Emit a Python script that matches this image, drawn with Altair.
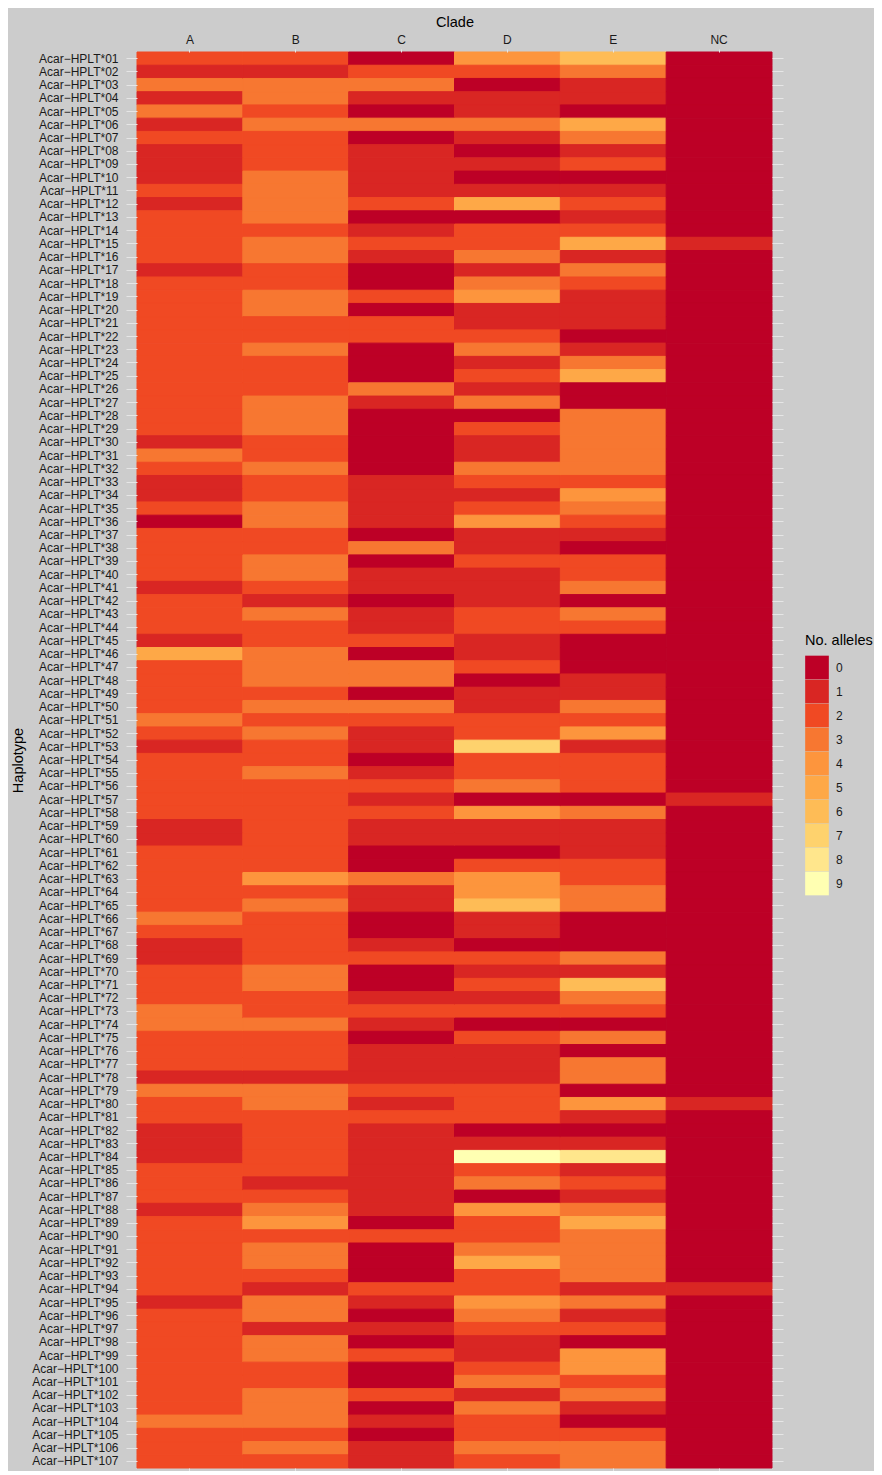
import altair as alt
import pandas as pd

clades = ["A", "B", "C", "D", "E", "NC"]
haplotypes = ["Acar\u2212HPLT*%02d" % i for i in range(1, 108)]

a = [2, 1, 3, 1, 3, 1, 2, 1, 1, 1, 2, 1, 2, 2, 2, 2, 1, 2,
     2, 2, 2, 2, 2, 2, 2, 2, 2, 2, 2, 1, 3, 2, 1, 1, 2, 0,
     2, 2, 2, 2, 1, 2, 2, 2, 1, 5, 2, 2, 2, 2, 3, 2, 1, 2,
     2, 2, 2, 2, 1, 1, 2, 2, 2, 2, 2, 3, 2, 1, 1, 2, 2, 2,
     3, 3, 2, 2, 2, 1, 3, 2, 2, 1, 1, 1, 2, 2, 2, 1, 2, 2,
     2, 2, 2, 2, 1, 2, 2, 2, 2, 2, 2, 2, 2, 3, 2, 2, 2]
b = [2, 1, 3, 3, 2, 3, 2, 2, 2, 3, 3, 3, 3, 2, 3, 3, 2, 2,
     3, 3, 2, 2, 3, 2, 2, 2, 3, 3, 3, 2, 2, 3, 2, 2, 3, 3,
     2, 2, 3, 3, 2, 1, 3, 2, 2, 3, 3, 3, 2, 3, 2, 3, 2, 2,
     3, 2, 2, 2, 2, 2, 2, 2, 4, 2, 3, 2, 2, 2, 2, 3, 3, 2,
     2, 3, 2, 2, 2, 1, 3, 3, 2, 2, 2, 2, 2, 1, 2, 3, 4, 2,
     3, 3, 2, 1, 3, 3, 1, 3, 3, 2, 2, 3, 3, 3, 2, 3, 2]
c = [0, 2, 3, 1, 0, 3, 0, 1, 1, 1, 1, 2, 0, 1, 2, 1, 0, 0,
     2, 0, 2, 2, 0, 0, 0, 3, 1, 0, 0, 0, 0, 0, 1, 1, 1, 1,
     0, 3, 0, 1, 1, 0, 1, 1, 2, 0, 3, 3, 0, 3, 2, 1, 1, 0,
     1, 2, 1, 2, 1, 1, 0, 0, 3, 1, 1, 0, 0, 1, 2, 0, 0, 1,
     2, 1, 0, 1, 1, 1, 2, 1, 2, 1, 1, 1, 1, 1, 1, 1, 0, 2,
     0, 0, 0, 2, 1, 0, 1, 0, 2, 0, 0, 2, 0, 1, 0, 1, 1]
d = [4, 2, 0, 1, 1, 3, 1, 0, 1, 0, 1, 5, 0, 2, 2, 3, 1, 3,
     4, 1, 1, 2, 3, 1, 2, 1, 3, 0, 2, 1, 1, 3, 2, 1, 2, 4,
     1, 1, 2, 1, 1, 1, 2, 2, 1, 1, 2, 0, 1, 1, 2, 2, 7, 2,
     2, 3, 0, 4, 1, 1, 0, 2, 4, 4, 6, 1, 1, 0, 2, 1, 2, 1,
     2, 0, 2, 1, 1, 1, 2, 2, 2, 0, 1, 9, 2, 3, 0, 4, 2, 2,
     3, 5, 2, 2, 4, 3, 2, 1, 1, 2, 3, 1, 3, 2, 2, 3, 2]
e = [6, 3, 1, 1, 0, 5, 3, 1, 2, 0, 1, 2, 1, 2, 5, 1, 3, 2,
     1, 1, 1, 0, 1, 3, 5, 0, 0, 3, 3, 3, 3, 3, 2, 4, 3, 2,
     1, 0, 2, 2, 3, 0, 3, 2, 0, 0, 0, 1, 1, 3, 2, 4, 1, 2,
     2, 2, 0, 3, 1, 1, 1, 2, 2, 3, 3, 0, 0, 0, 3, 1, 6, 3,
     2, 0, 3, 0, 3, 3, 0, 4, 1, 0, 1, 8, 1, 2, 1, 3, 5, 3,
     3, 3, 3, 1, 3, 1, 2, 0, 4, 4, 2, 3, 1, 0, 2, 3, 3]
nc = [0] * 107
for i in (15, 57, 80, 94):
    nc[i - 1] = 1

allele_levels = list(range(10))
palette = ["#bd0026", "#d92623", "#f04923", "#f77731", "#fd953d",
           "#fea847", "#febc56", "#fed26d", "#ffe68c", "#ffffb2"]

rows = []
for clade, vals in zip(clades, [a, b, c, d, e, nc]):
    for h, v in zip(haplotypes, vals):
        rows.append({"Clade": clade, "Haplotype": h, "alleles": v})
df = pd.DataFrame(rows)

FONT = "Liberation Sans"
TICK = "#e6e6e6"

base = alt.Chart(df)

main = base.mark_rect(strokeWidth=1).encode(
    x=alt.X("Clade:N", sort=clades, title="Clade",
            axis=alt.Axis(orient="top", labelAngle=0, domain=False, tickColor=TICK,
                          tickSize=3, labelPadding=3, labelFontSize=12, titleFontSize=14.5,
                          titleFontWeight="normal", titlePadding=4)),
    y=alt.Y("Haplotype:N", sort=haplotypes, title="Haplotype",
            axis=alt.Axis(domain=False, tickColor=TICK, tickSize=11, labelPadding=8,
                          labelFontSize=12, titleFontSize=14.5, titleFontWeight="normal",
                          titlePadding=6)),
    color=alt.Color("alleles:O", title="No. alleles",
                    scale=alt.Scale(domain=allele_levels, range=palette),
                    legend=alt.Legend(orient="none", legendX=668, legendY=582,
                                      padding=0, symbolType="square", symbolSize=560,
                                      symbolStrokeWidth=0, rowPadding=0,
                                      labelFontSize=12, titleFontSize=14.5,
                                      titleFontWeight="normal", titlePadding=7,
                                      labelOffset=7)),
    stroke=alt.Stroke("alleles:O", scale=alt.Scale(domain=allele_levels, range=palette),
                      legend=None),
)

# mirrored ticks on the bottom and right edges
ghost = base.mark_rect(opacity=0).encode(
    x=alt.X("Clade:N", sort=clades, title=None,
            axis=alt.Axis(orient="bottom", labels=False, domain=False,
                          tickColor=TICK, tickSize=3)),
    y=alt.Y("Haplotype:N", sort=haplotypes, title=None,
            axis=alt.Axis(orient="right", labels=False, domain=False,
                          tickColor=TICK, tickSize=11)),
)

chart = alt.layer(main, ghost).resolve_axis(
    x="independent", y="independent"
).properties(
    width=635, height=1416, background="#cccccc",
    autosize=alt.AutoSizeParams(type="none"),
    padding={"left": 129, "top": 44, "right": 102, "bottom": 3},
).configure_view(strokeWidth=0).configure_axis(
    labelFont=FONT, titleFont=FONT, labelColor="#1a1a1a", titleColor="#000000"
).configure_legend(
    labelFont=FONT, titleFont=FONT, labelColor="#1a1a1a", titleColor="#000000"
)

chart.save("out.html", embed_options={"renderer": "svg", "actions": False})
